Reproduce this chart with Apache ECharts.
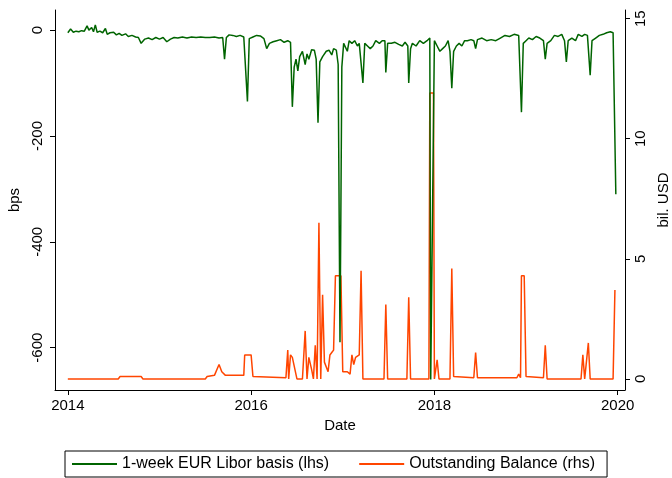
<!DOCTYPE html>
<html>
<head>
<meta charset="utf-8">
<script src="https://cdn.jsdelivr.net/npm/echarts@6/dist/echarts.min.js"></script>
<style>html,body{margin:0;padding:0;background:#fff}#main{width:672px;height:478px}</style>
</head>
<body>
<div id="main"></div>
<script>
// x values are decimal years
var liborBasis = [
 [2014.00,-5],[2014.03,2],[2014.06,-4],[2014.09,-2],[2014.12,-3],[2014.15,-1],[2014.18,-2],[2014.21,8],[2014.23,0],[2014.26,5],[2014.28,-3],[2014.30,10],[2014.32,-4],[2014.35,-2],[2014.38,-5],
 [2014.41,3],[2014.43,-8],[2014.46,-5],[2014.50,-4],[2014.53,-9],[2014.56,-6],[2014.59,-10],[2014.63,-7],[2014.66,-12],[2014.70,-10],[2014.74,-13],[2014.77,-14],[2014.80,-25],[2014.84,-17],
 [2014.88,-15],[2014.92,-18],[2014.96,-14],[2015.00,-17],[2015.04,-14],[2015.08,-22],[2015.12,-17],[2015.16,-14],[2015.20,-15],[2015.25,-13],[2015.30,-15],[2015.35,-13],[2015.40,-14],
 [2015.45,-13],[2015.50,-14],[2015.55,-14],[2015.60,-13],[2015.65,-15],[2015.69,-14],[2015.71,-55],[2015.73,-14],[2015.76,-9],[2015.80,-10],[2015.84,-12],[2015.88,-10],[2015.92,-13],
 [2015.94,-16],[2015.96,-135],[2015.98,-16],[2016.02,-13],[2016.06,-10],[2016.10,-11],[2016.14,-16],[2016.17,-35],[2016.20,-25],[2016.24,-22],[2016.28,-20],[2016.32,-18],[2016.36,-23],[2016.40,-20],
 [2016.43,-23],[2016.45,-145],[2016.47,-70],[2016.49,-55],[2016.51,-77],[2016.53,-50],[2016.56,-40],[2016.59,-65],[2016.61,-45],[2016.63,-55],[2016.66,-37],[2016.69,-38],[2016.71,-55],
 [2016.73,-175],[2016.75,-60],[2016.78,-50],[2016.82,-40],[2016.85,-38],[2016.88,-47],[2016.90,-35],[2016.93,-38],[2016.95,-65],[2016.97,-590],[2016.99,-70],[2017.01,-25],[2017.03,-28],
 [2017.05,-40],[2017.07,-20],[2017.10,-25],[2017.13,-20],[2017.16,-30],[2017.18,-25],[2017.20,-28],[2017.22,-100],[2017.24,-25],[2017.27,-30],[2017.30,-35],[2017.33,-30],[2017.36,-20],
 [2017.40,-25],[2017.43,-20],[2017.46,-20],[2017.47,-80],[2017.49,-25],[2017.53,-25],[2017.57,-23],[2017.61,-27],[2017.65,-30],[2017.68,-23],[2017.71,-30],[2017.72,-100],[2017.74,-35],
 [2017.76,-25],[2017.80,-30],[2017.84,-20],[2017.88,-25],[2017.92,-20],[2017.95,-15],[2017.96,-660],[2017.98,-660],[2018.00,-20],[2018.03,-30],[2018.06,-40],[2018.09,-35],[2018.12,-30],
 [2018.15,-20],[2018.17,-40],[2018.19,-110],[2018.21,-40],[2018.24,-30],[2018.27,-25],[2018.30,-30],[2018.33,-20],[2018.36,-20],[2018.40,-18],[2018.43,-20],[2018.45,-35],[2018.47,-18],
 [2018.52,-15],[2018.57,-20],[2018.62,-18],[2018.67,-20],[2018.72,-15],[2018.77,-10],[2018.82,-12],[2018.87,-8],[2018.92,-10],[2018.95,-155],[2018.97,-25],[2019.00,-20],[2019.03,-15],
 [2019.07,-18],[2019.11,-12],[2019.15,-15],[2019.19,-20],[2019.21,-55],[2019.23,-25],[2019.27,-20],[2019.31,-10],[2019.35,-12],[2019.39,-8],[2019.42,-20],[2019.44,-60],[2019.46,-20],
 [2019.50,-15],[2019.54,-20],[2019.57,-8],[2019.61,-12],[2019.64,-8],[2019.67,-10],[2019.70,-85],[2019.72,-20],[2019.76,-15],[2019.80,-10],[2019.84,-8],[2019.88,-5],[2019.92,-3],[2019.95,-5],[2019.98,-310]
];
var outstanding = [
 [2014.00,0],[2014.55,0],[2014.57,0.1],[2014.80,0.1],[2014.82,0],[2015.50,0],[2015.52,0.1],[2015.60,0.15],[2015.65,0.6],[2015.68,0.3],[2015.72,0.15],[2015.92,0.15],[2015.93,1.0],[2016.00,1.0],
 [2016.02,0.1],[2016.38,0.05],[2016.40,1.2],[2016.41,0],[2016.43,1.0],[2016.45,0.9],[2016.50,0],[2016.56,0],[2016.59,2.0],[2016.61,0],[2016.63,0.9],[2016.66,0.4],[2016.68,0],[2016.70,1.4],
 [2016.72,0],[2016.74,6.5],[2016.76,0],[2016.78,3.5],[2016.80,0.7],[2016.82,0.7],[2016.84,0.3],[2016.86,1.0],[2016.88,1.1],[2016.90,1.2],[2016.92,4.3],[2016.98,4.3],[2017.00,0.3],
 [2017.05,0.3],[2017.08,0.2],[2017.10,1.0],[2017.12,0.6],[2017.14,0.9],[2017.18,1.0],[2017.20,4.5],[2017.22,0],[2017.45,0],[2017.47,3.1],[2017.49,0],[2017.70,0],[2017.72,3.4],[2017.74,0],
 [2017.94,0],[2017.95,11.9],[2017.99,11.9],[2018.00,0],[2018.02,0],[2018.03,0.8],[2018.05,0],[2018.17,0],[2018.19,4.6],[2018.21,0.1],[2018.43,0.05],[2018.45,1.1],[2018.47,0.05],
 [2018.90,0.05],[2018.92,0.2],[2018.94,0.05],[2018.95,4.3],[2018.98,4.3],[2019.00,0.1],[2019.19,0.05],[2019.21,1.4],[2019.23,0],[2019.60,0],[2019.62,1.0],[2019.64,0],[2019.66,0],[2019.68,1.5],
 [2019.70,0],[2019.95,0],[2019.97,3.7]
];
var yearTicks = [2014, 2016, 2018, 2020];

var chart = echarts.init(document.getElementById('main'));
var axisColor = '#000';
chart.setOption({
  animation: false,
  textStyle: {fontFamily: 'Liberation Sans'},
  grid: {left: 55, right: 47, top: 10, bottom: 88, outerBoundsMode: 'none', containLabel: false},
  legend: {
    bottom: 1, left: 65, itemGap: 30,
    borderColor: '#000', borderWidth: 1, padding: [5, 12, 5, 7],
    itemWidth: 45, itemHeight: 2, icon: 'rect',
    textStyle: {fontSize: 16, color: '#000'},
    data: ['1-week EUR Libor basis (lhs)', 'Outstanding Balance (rhs)']
  },
  xAxis: {
    type: 'value', min: 2013.86, max: 2020.08,
    name: 'Date', nameLocation: 'middle', nameGap: 24,
    nameTextStyle: {fontSize: 15, color: '#000'},
    axisLine: {onZero: false, lineStyle: {color: axisColor}},
    axisTick: {customValues: yearTicks, length: 5, lineStyle: {color: axisColor}},
    axisLabel: {customValues: yearTicks, fontSize: 15, color: '#000', margin: 8, formatter: function (v) { return String(v); }},
    splitLine: {show: false}
  },
  yAxis: [{
    type: 'value', min: -680, max: 38, position: 'left',
    name: 'bps', nameLocation: 'middle', nameGap: 32,
    nameTextStyle: {fontSize: 15, color: '#000'},
    axisLine: {show: true, onZero: false, lineStyle: {color: axisColor}},
    axisTick: {customValues: [-600, -400, -200, 0], length: 5, lineStyle: {color: axisColor}},
    axisLabel: {customValues: [-600, -400, -200, 0], rotate: 90, fontSize: 15, color: '#000', margin: 10},
    splitLine: {show: false}
  }, {
    type: 'value', min: -0.46, max: 15.36, position: 'right',
    name: 'bil. USD', nameLocation: 'middle', nameGap: 16, nameRotate: 90,
    nameTextStyle: {fontSize: 15, color: '#000'},
    axisLine: {show: true, onZero: false, lineStyle: {color: axisColor}},
    axisTick: {customValues: [0, 5, 10, 15], length: 5, lineStyle: {color: axisColor}},
    axisLabel: {customValues: [0, 5, 10, 15], rotate: 90, fontSize: 15, color: '#000', margin: 8},
    splitLine: {show: false}
  }],
  series: [{
    name: 'Outstanding Balance (rhs)', type: 'line', yAxisIndex: 1,
    data: outstanding, showSymbol: false, symbol: 'none',
    lineStyle: {color: '#ff4500', width: 1.5}, itemStyle: {color: '#ff4500'}
  }, {
    name: '1-week EUR Libor basis (lhs)', type: 'line', yAxisIndex: 0,
    data: liborBasis, showSymbol: false, symbol: 'none',
    lineStyle: {color: '#006400', width: 1.5}, itemStyle: {color: '#006400'}
  }]
});
</script>
</body>
</html>
